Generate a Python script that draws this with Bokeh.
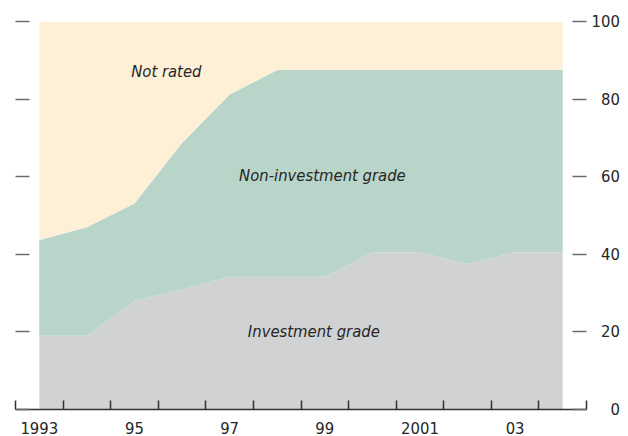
from bokeh.plotting import figure
from bokeh.models import ColumnDataSource, LinearAxis, FixedTicker, Range1d, Label
from bokeh.embed import file_html
from bokeh.resources import INLINE

# ---- data (percent of countries) ----
years = [1993, 1994, 1995, 1996, 1997, 1998, 1999, 2000, 2001, 2002, 2003, 2004]
investment = [19, 19, 28, 31, 34.2, 34.2, 34.2, 40.5, 40.5, 37.5, 40.5, 40.5]
non_investment = [24.7, 28, 25.1, 37.7, 47, 53.3, 53.3, 47, 47, 50, 47, 47]
not_rated = [100 - a - b for a, b in zip(investment, non_investment)]

x_tick_values = [1993, 1995, 1997, 1999, 2001, 2003]
x_tick_labels = ["1993", "95", "97", "99", "2001", "03"]
y_tick_values = [0, 20, 40, 60, 80, 100]
y_tick_labels = ["\u2007\u20070", "\u200720", "\u200740", "\u200760", "\u200780", "100"]

FONT = "DejaVu Sans Condensed, Liberation Sans, sans-serif"
FS = "16.5px"
TXT = "#262626"

source = ColumnDataSource(dict(year=years, inv=investment, noninv=non_investment, nr=not_rated))

p = figure(width=628, height=436, output_backend="svg", toolbar_location=None,
           x_range=Range1d(1992.5, 2004.5), y_range=Range1d(0, 100),
           x_axis_location=None, y_axis_location=None,
           min_border_left=15, min_border_right=42, min_border_top=21, min_border_bottom=26)
p.outline_line_color = None
p.xgrid.visible = False
p.ygrid.visible = False

p.varea_stack(stackers=["inv", "noninv", "nr"], x="year", source=source,
              color=["#D1D2D4", "#B9D4C9", "#FDF0D7"])

# bottom axis
xax = LinearAxis(ticker=FixedTicker(ticks=x_tick_values,
                                    minor_ticks=[y - 0.5 for y in years] + [years[-1] + 0.5]))
xax.major_label_overrides = {v: s for v, s in zip(x_tick_values, x_tick_labels)}
xax.major_tick_line_color = None
xax.minor_tick_in = 9
xax.minor_tick_out = 0
xax.minor_tick_line_color = "#333333"
xax.minor_tick_line_width = 1.5
xax.axis_line_color = "#333333"
xax.axis_line_width = 1.5
xax.major_label_standoff = 6
xax.major_label_text_font = FONT
xax.major_label_text_font_size = FS
xax.major_label_text_color = TXT
p.add_layout(xax, "below")

# left axis (ticks only)
lax = LinearAxis(ticker=FixedTicker(ticks=y_tick_values, minor_ticks=[]))
lax.major_label_overrides = {v: "" for v in y_tick_values}
lax.axis_line_color = None
lax.major_tick_in = 14
lax.major_tick_out = 0
lax.major_tick_line_color = "#6b6b6b"
lax.major_tick_line_width = 1.5
lax.minor_tick_line_color = None
lax.major_label_standoff = 0
p.add_layout(lax, "left")

# right axis
rax = LinearAxis(ticker=FixedTicker(ticks=y_tick_values, minor_ticks=[]))
rax.major_label_overrides = {v: s for v, s in zip(y_tick_values, y_tick_labels)}
rax.axis_line_color = None
rax.major_tick_in = 14
rax.major_tick_out = 0
rax.major_tick_line_color = "#6b6b6b"
rax.major_tick_line_width = 1.5
rax.minor_tick_line_color = None
rax.major_label_standoff = 5
rax.major_label_text_font = FONT
rax.major_label_text_font_size = FS
rax.major_label_text_color = TXT
p.add_layout(rax, "right")

for txt, xx, yy in [("Not rated", 1995.67, 87.1),
                    ("Non-investment grade", 1998.95, 60.4),
                    ("Investment grade", 1998.77, 20.0)]:
    p.add_layout(Label(x=xx, y=yy, text=txt, text_align="center", text_baseline="middle",
                       text_font=FONT, text_font_style="italic", text_font_size=FS,
                       text_color=TXT))

open("out.html", "w").write(file_html(p, INLINE))
